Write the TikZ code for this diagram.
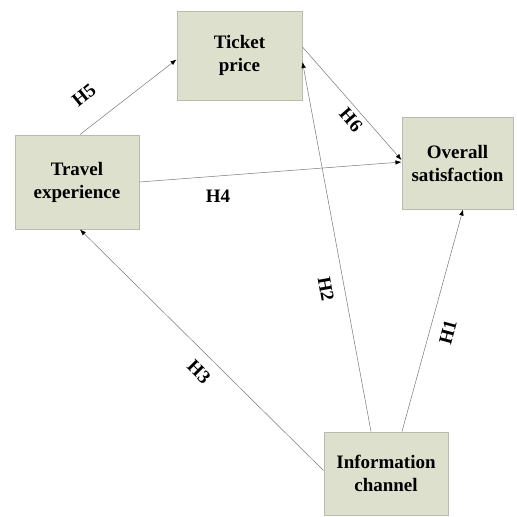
\documentclass[tikz,border=0pt]{standalone}
\usepackage{fontspec}
\setmainfont{Liberation Serif}
\usetikzlibrary{arrows.meta}
\definecolor{boxfill}{RGB}{221,224,204}
\definecolor{boxline}{RGB}{185,187,175}
\definecolor{linkgray}{RGB}{120,120,120}
\begin{document}
\begin{tikzpicture}[x=1pt,y=-1pt,
  box/.style={draw=boxline,line width=1pt,fill=boxfill,align=center,inner sep=0pt,
    font=\fontsize{19}{23}\selectfont\bfseries},
  link/.style={draw=linkgray,line width=0.5pt,-{Latex[length=6pt,width=4.5pt,color=black]}},
  hlabel/.style={font=\fontsize{19}{23}\selectfont\bfseries,inner sep=0pt}]
\useasboundingbox (0,0) rectangle (517,517);
\fill[white] (0,0) rectangle (517,517);
\node[box,minimum width=125pt,minimum height=89pt] (ticket) at (239.5,55.5) {Ticket\\price};
\node[box,minimum width=124pt,minimum height=94pt] (travel) at (77,182) {Travel\\experience};
\node[box,minimum width=111pt,minimum height=92pt] (overall) at (457.5,163) {Overall\\satisfaction};
\node[box,minimum width=124pt,minimum height=83pt] (info) at (386,473.5) {Information\\channel};
\draw[link] ([xshift=3pt]travel.north) -- ([yshift=-4pt]ticket.west);
\draw[link] ([yshift=8.5pt]ticket.east) -- ([yshift=3pt]overall.west);
\draw[link] (travel.east) -- ([yshift=1pt]overall.west);
\draw[link] ([xshift=-15pt]info.north) -- ([yshift=-6.5pt]ticket.east);
\draw[link] ([xshift=16pt]info.north) -- ([xshift=5.5pt]overall.south);
\draw[link] ([yshift=3pt]info.west) -- ([xshift=3pt]travel.south);
\node[hlabel,rotate=39] (h5) at (84,95) {H5};
\node[hlabel,rotate=-49] (h6) at (351,120) {H6};
\node[hlabel] (h4) at (218,196) {H4};
\node[hlabel,rotate=-80] (h2) at (326,289) {H2};
\node[hlabel,rotate=75] (h1) at (448,332) {H1};
\node[hlabel,rotate=-45] (h3) at (199,372) {H3};
\end{tikzpicture}
\end{document}
